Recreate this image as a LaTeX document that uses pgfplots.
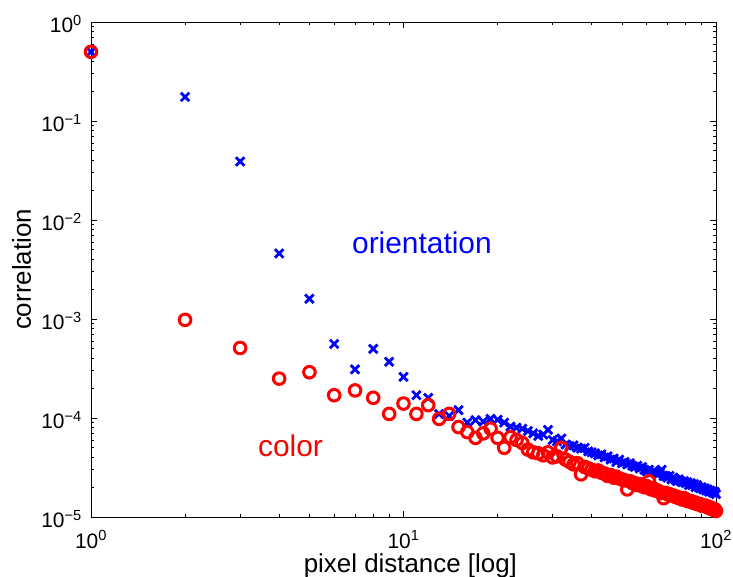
\documentclass[border=0pt]{standalone}
\usepackage{fontspec}
\setmainfont{Liberation Sans}
\usepackage{pgfplots}
\pgfplotsset{compat=1.18}
\definecolor{mblue}{RGB}{0,0,255}
\definecolor{mred}{RGB}{255,0,0}
\newcommand{\sexp}[1]{10\textsuperscript{#1}}
\begin{document}
\begin{tikzpicture}
\useasboundingbox (-91bp,-60bp) rectangle (642bp,517bp);
\begin{axis}[
  at={(0,0)}, anchor=south west,
  scale only axis, width=625bp, height=495bp,
  xmode=log, ymode=log,
  xmin=1, xmax=100, ymin=1e-5, ymax=1,
  xtick={1,10,100},
  xticklabels={\sexp{0},\sexp{1},\sexp{2}},
  ytick={1e-5,1e-4,1e-3,1e-2,1e-1,1},
  yticklabels={\sexp{−5},\sexp{−4},\sexp{−3},\sexp{−2},\sexp{−1},\sexp{0}},
  minor xtick={2,3,4,5,6,7,8,9,20,30,40,50,60,70,80,90},
  minor ytick={2e-5,3e-5,4e-5,5e-5,6e-5,7e-5,8e-5,9e-5,
               2e-4,3e-4,4e-4,5e-4,6e-4,7e-4,8e-4,9e-4,
               2e-3,3e-3,4e-3,5e-3,6e-3,7e-3,8e-3,9e-3,
               2e-2,3e-2,4e-2,5e-2,6e-2,7e-2,8e-2,9e-2,
               0.2,0.3,0.4,0.5,0.6,0.7,0.8,0.9},
  tick align=inside,
  major tick length=6bp, minor tick length=3.5bp,
  every tick/.style={black, line width=0.8bp},
  axis line style={line width=0.8bp},
  tick label style={font=\fontsize{21}{25}\selectfont},
  xticklabel style={anchor=base, inner sep=0pt, yshift=-31bp},
  yticklabel style={anchor=east, inner sep=0pt, xshift=-9bp, yshift=-2bp},
  xlabel={pixel distance [log]},
  ylabel={correlation},
  label style={font=\fontsize{26}{30}\selectfont, inner sep=0pt},
  xlabel style={at={(axis description cs:0.511,0)}, anchor=base, yshift=-55bp},
  ylabel style={at={(axis description cs:-0.1112,0.5)}, anchor=center},
  clip=false,
]
\addplot[only marks, mark=x, mark size=6bp, mblue, mark options={line width=2.8bp}] coordinates {
(1,0.5) (2,0.175) (3,0.039) (4,0.0046) (5,0.0016) (6,5.6e-4) (7,3.1e-4) (8,5.0e-4)
(9,3.7e-4) (10,2.6e-4) (11,1.7e-4) (12,1.6e-4) (13,1.1e-4) (14,1.05e-4) (15,1.2e-4)
(16,9.0e-5) (17,9.5e-5) (18,9.2e-5) (19,9.8e-5) (20,9.6e-5) (21,9.0e-5) (22,8.2e-5)
(23,8.0e-5) (24,7.8e-5) (25,7.4e-5) (26,7.0e-5) (27,6.6e-5) (28,6.8e-5) (29,7.6e-5)
(30,6.0e-5) (31,5.8e-5) (32,6.2e-5) (33,5.4e-5) (34,5.2e-5) (35,5.3e-5) (36,5.0e-5)
(37,4.9e-5) (38,5.0e-5) (39,4.6e-5) (40,4.5e-5) (41,4.4e-5) (42,4.2e-5) (43,4.3e-5)
(44,4.0e-5) (45,4.1e-5) (46,3.8e-5) (47,3.9e-5) (48,3.6e-5) (49,3.8e-5) (50,3.5e-5)
(51,3.6e-5) (52,3.4e-5) (53,3.5e-5) (54,3.3e-5) (55,3.2e-5) (56,3.3e-5) (57,3.1e-5)
(58,3.2e-5) (59,3.0e-5) (60,2.9e-5) (61,3.0e-5) (62,2.8e-5) (63,2.9e-5) (64,2.8e-5)
(65,2.7e-5) (66,2.8e-5) (67,3.0e-5) (68,2.6e-5) (69,2.6e-5) (70,2.5e-5) (71,2.6e-5)
(72,2.4e-5) (73,2.5e-5) (74,2.4e-5) (75,2.3e-5) (76,2.4e-5) (77,2.3e-5) (78,2.25e-5)
(79,2.3e-5) (80,2.2e-5) (81,2.25e-5) (82,2.1e-5) (83,2.2e-5) (84,2.1e-5) (85,2.15e-5)
(86,2.0e-5) (87,2.1e-5) (88,2.0e-5) (89,1.95e-5) (90,2.0e-5) (91,1.9e-5) (92,1.95e-5)
(93,1.85e-5) (94,1.9e-5) (95,1.8e-5) (96,1.85e-5) (97,1.8e-5) (98,1.75e-5) (99,1.8e-5)
(100,1.7e-5)
};
\addplot[only marks, mark=o, mark size=5.8bp, mred, mark options={line width=3bp}] coordinates {
(1,0.5) (2,9.8e-4) (3,5.1e-4) (4,2.5e-4) (5,2.9e-4) (6,1.7e-4) (7,1.9e-4) (8,1.6e-4)
(9,1.1e-4) (10,1.4e-4) (11,1.1e-4) (12,1.35e-4) (13,9.8e-5) (14,1.1e-4) (15,8.1e-5)
(16,7.2e-5) (17,6.3e-5) (18,7.0e-5) (19,7.8e-5) (20,6.3e-5) (21,5.0e-5) (22,6.4e-5)
(23,6.0e-5) (24,5.6e-5) (25,4.8e-5) (26,4.5e-5) (27,4.4e-5) (28,4.2e-5) (29,4.5e-5)
(30,4.0e-5) (31,4.1e-5) (32,5.0e-5) (33,3.8e-5) (34,3.6e-5) (35,3.4e-5) (36,3.5e-5)
(37,2.7e-5) (38,3.2e-5) (39,3.1e-5) (40,3.0e-5) (41,2.9e-5) (42,2.95e-5) (43,2.8e-5)
(44,2.75e-5) (45,2.6e-5) (46,2.65e-5) (47,2.5e-5) (48,2.55e-5) (49,2.45e-5) (50,2.4e-5)
(51,2.35e-5) (52,1.9e-5) (53,2.3e-5) (54,2.2e-5) (55,2.2e-5) (56,2.1e-5) (57,2.15e-5)
(58,2.05e-5) (59,2.0e-5) (60,2.05e-5) (61,2.3e-5) (62,1.9e-5) (63,1.95e-5) (64,1.85e-5)
(65,1.85e-5) (66,1.8e-5) (67,1.75e-5) (68,1.55e-5) (69,1.75e-5) (70,1.7e-5) (71,1.7e-5)
(72,1.65e-5) (73,1.65e-5) (74,1.6e-5) (75,1.6e-5) (76,1.55e-5) (77,1.55e-5) (78,1.5e-5)
(79,1.55e-5) (80,1.5e-5) (81,1.45e-5) (82,1.45e-5) (83,1.45e-5) (84,1.4e-5) (85,1.4e-5)
(86,1.4e-5) (87,1.35e-5) (88,1.35e-5) (89,1.35e-5) (90,1.3e-5) (91,1.3e-5) (92,1.3e-5)
(93,1.3e-5) (94,1.25e-5) (95,1.25e-5) (96,1.25e-5) (97,1.2e-5) (98,1.2e-5) (99,1.2e-5)
(100,1.15e-5)
};
\node[anchor=base west, text=mblue, inner sep=0pt, font=\fontsize{30}{36}\selectfont] at (axis cs:6.84,4.6e-3) {orientation};
\node[anchor=base west, text=mred, inner sep=0pt, font=\fontsize{30}{36}\selectfont] at (axis cs:3.42,4.1e-5) {color};
\end{axis}
\end{tikzpicture}
\end{document}
